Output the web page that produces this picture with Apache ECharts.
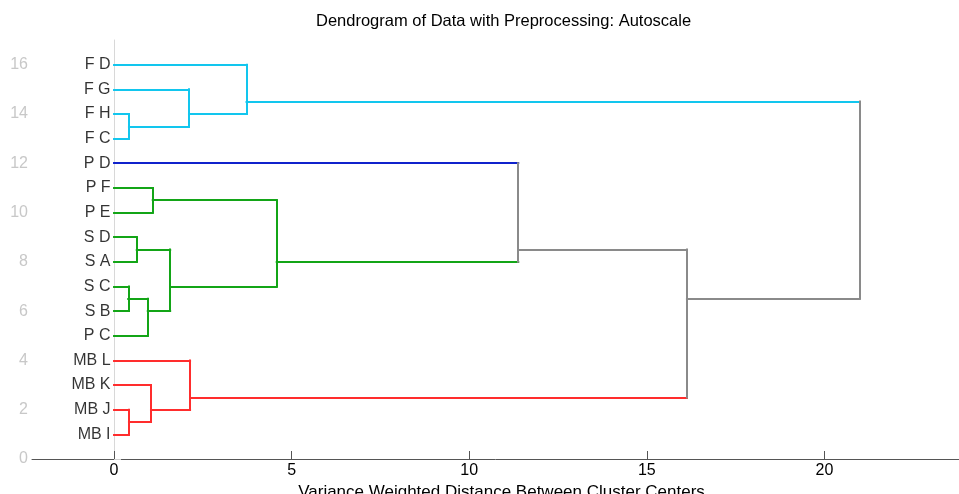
<!DOCTYPE html>
<html>
<head>
<meta charset="utf-8">
<script src="https://cdn.jsdelivr.net/npm/echarts@6/dist/echarts.min.js"></script>
<style>html,body{margin:0;padding:0;background:#fff;}#c{width:959px;height:494px;}</style>
</head>
<body>
<div id="c"></div>
<script>
// Leaves (ids 0..15), positioned at y = 1..16
const leafLabels = ['MB I','MB J','MB K','MB L','P C','S B','S C','S A','S D','P E','P F','P D','F C','F H','F G','F D'];
const leafPos = [1,2,3,4,5,6,7,8,9,10,11,12,13,14,15,16];
const leafGroup = ['MB','MB','MB','MB','G','G','G','G','G','G','G','PD','F','F','F','F'];
// Merges (ids 16..30): children A/B, merge distance, merge node position, group
const mergeA = [1,2,3,6,4,8,21,10,23,13,14,15,11,28,27];
const mergeB = [0,16,17,5,19,7,20,9,22,12,25,26,24,18,29];
const mergeHeight = [0.42,1.04,2.14,0.40,0.95,0.64,1.58,1.09,4.58,0.42,2.11,3.73,11.38,16.13,20.99];
const mergeY = [1.5,2,2.5,6.5,6,8.5,7,10.5,8,13.5,14,14.5,8.5,6.5,8.5];
const mergeGroup = ['MB','MB','MB','G','G','G','G','G','G','F','F','F','root','root','root'];
const xTicks = [0,5,10,15,20];
const yTicks = [0,2,4,6,8,10,12,14,16];

const groupColor = {MB:'#ff2d2d', G:'#13a517', F:'#12c6ee', PD:'#1022cc', root:'#8a8a8a'};

const nodeX = leafPos.map(() => 0).concat(mergeHeight);
const nodeY = leafPos.concat(mergeY);
const nodeGroup = leafGroup.concat(mergeGroup);

const segs = [];
mergeA.forEach((a, i) => {
  const b = mergeB[i], h = mergeHeight[i];
  segs.push({coords:[[nodeX[a], nodeY[a]],[h, nodeY[a]]], lineStyle:{color:groupColor[nodeGroup[a]]}});
  segs.push({coords:[[nodeX[b], nodeY[b]],[h, nodeY[b]]], lineStyle:{color:groupColor[nodeGroup[b]]}});
  segs.push({coords:[[h, nodeY[a]],[h, nodeY[b]]], lineStyle:{color:groupColor[mergeGroup[i]]}});
});

const FONT = '"Liberation Sans", Arial, sans-serif';
const chart = echarts.init(document.getElementById('c'), null, {renderer:'canvas'});
chart.setOption({
  animation:false,
  backgroundColor:'#fff',
  title:{text:'Dendrogram of Data with Preprocessing: Autoscale', left:311, top:8,
    textStyle:{fontFamily:FONT, fontSize:16.5, fontWeight:'normal', color:'#000'}},
  grid:{left:32, right:0, top:40, bottom:35, outerBoundsMode:'none', containLabel:false},
  xAxis:{type:'value', min:-2.31, max:23.79,
    name:'Variance Weighted Distance Between Cluster Centers', nameLocation:'middle', nameGap:16,
    nameTextStyle:{fontFamily:FONT, fontSize:17, color:'#000', padding:[0,0,0,12]},
    axisLine:{show:true, lineStyle:{color:'#555', width:1}},
    axisTick:{show:true, inside:true, length:8, lineStyle:{color:'#555'}, customValues:xTicks},
    axisLabel:{customValues:xTicks, margin:4, fontFamily:FONT, fontSize:16, color:'#000'},
    splitLine:{show:false}},
  yAxis:{type:'value', min:0, max:17,
    axisLine:{show:true, lineStyle:{color:'#d8d8d8', width:1}},
    axisTick:{show:true, inside:true, length:7, lineStyle:{color:'#d0d0d0'}, customValues:yTicks},
    axisLabel:{customValues:yTicks, margin:4, fontFamily:FONT, fontSize:16, color:'#c8c8c8'},
    splitLine:{show:false}},
  series:[
    {type:'lines', coordinateSystem:'cartesian2d', silent:true, z:3,
      lineStyle:{width:2, opacity:1, cap:'square'}, data:segs},
    {type:'scatter', silent:true, symbolSize:1, itemStyle:{color:'rgba(0,0,0,0)'},
      data:leafLabels.map((n,i)=>({name:n, value:[0, leafPos[i]]})),
      label:{show:true, position:'left', distance:3, formatter:p=>p.name,
        fontFamily:FONT, fontSize:16, color:'#000'}}
  ]
});
</script>
</body>
</html>
